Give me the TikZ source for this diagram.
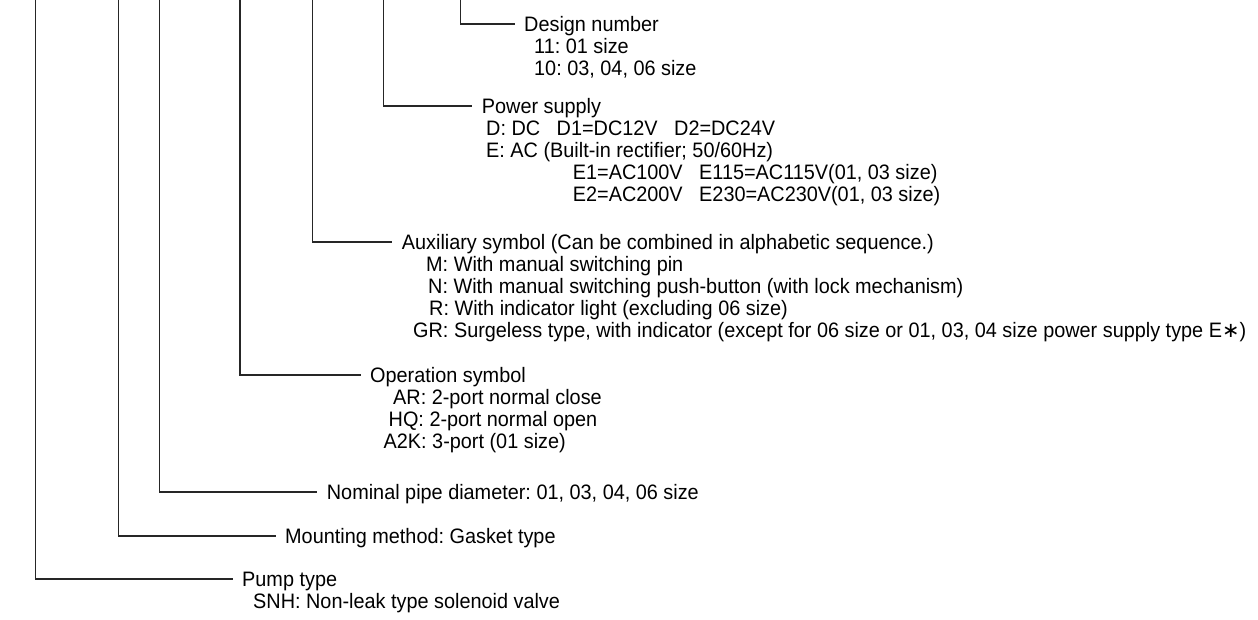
\documentclass[tikz,border=0pt]{standalone}
\usepackage{fontspec}
\setmainfont{Liberation Sans}[FakeStretch=0.95]
\newfontfamily\dejavu{DejaVu Sans}
\frenchspacing
\begin{document}
\begin{tikzpicture}[x=1pt,y=-1pt,
  lbl/.style={anchor=west, inner sep=0pt, text height=15pt, text depth=0pt, font=\fontsize{20.9}{22}\selectfont},
  lead/.style={draw=black!85, line width=1.2pt},
  gap/.style={xshift=-9.5pt}]
\useasboundingbox (0,0) rectangle (1258,619);
% top ends of the leaders
\coordinate (tpump) at (35.7,0);
\coordinate (tmount) at (118.7,0);
\coordinate (tnom) at (159.3,0);
\coordinate (top) at (240,0);
\coordinate (taux) at (312.7,0);
\coordinate (tpow) at (383.3,0);
\coordinate (tdes) at (460.3,0);
% design number
\node[lbl] (des) at (524,24) {Design number};
\node[lbl] (des1) at (534,46) {11: 01 size};
\node[lbl] (des2) at (534,68) {10: 03, 04, 06 size};
% power supply
\node[lbl] (pow) at (481.7,106) {Power supply};
\node[lbl] (pow1) at (486,128) {D: DC\hspace{16.5pt}D1=DC12V\hspace{16.5pt}D2=DC24V};
\node[lbl] (pow2) at (486,150) {E: AC (Built-in rectifier; 50/60Hz)};
\node[lbl] (pow3) at (572.7,172) {E1=AC100V\hspace{16.5pt}E115=AC115V(01, 03 size)};
\node[lbl] (pow4) at (572.7,194) {E2=AC200V\hspace{16.5pt}E230=AC230V(01, 03 size)};
% auxiliary symbol
\node[lbl] (aux) at (401.7,242) {Auxiliary symbol (Can be combined in alphabetic sequence.)};
\node[lbl] (aux1) at (426,264) {M: With manual switching pin};
\node[lbl] (aux2) at (428,286) {N: With manual switching push-button (with lock mechanism)};
\node[lbl] (aux3) at (429,308) {R: With indicator light (excluding 06 size)};
\node[lbl] (aux4) at (413,330) {GR: Surgeless type, with indicator (except for 06 size or 01, 03, 04 size power supply type E{\dejavu ∗})};
% operation symbol
\node[lbl] (op) at (370,375) {Operation symbol};
\node[lbl] (op1) at (393,397) {AR: 2-port normal close};
\node[lbl] (op2) at (388.5,419) {HQ: 2-port normal open};
\node[lbl] (op3) at (383.5,441) {A2K: 3-port (01 size)};
% nominal, mounting, pump
\node[lbl] (nom) at (326.7,492) {Nominal pipe diameter: 01, 03, 04, 06 size};
\node[lbl] (mount) at (285,536) {Mounting method: Gasket type};
\node[lbl] (pump) at (242,579) {Pump type};
\node[lbl] (pump1) at (253,601) {SNH: Non-leak type solenoid valve};
% leaders
\draw[lead] (tdes) |- ([gap]des.west);
\draw[lead] (tpow) |- ([gap]pow.west);
\draw[lead] (taux) |- ([gap]aux.west);
\draw[lead] (top) |- ([gap]op.west);
\draw[lead] (tnom) |- ([gap]nom.west);
\draw[lead] (tmount) |- ([gap]mount.west);
\draw[lead] (tpump) |- ([gap]pump.west);
\end{tikzpicture}
\end{document}
